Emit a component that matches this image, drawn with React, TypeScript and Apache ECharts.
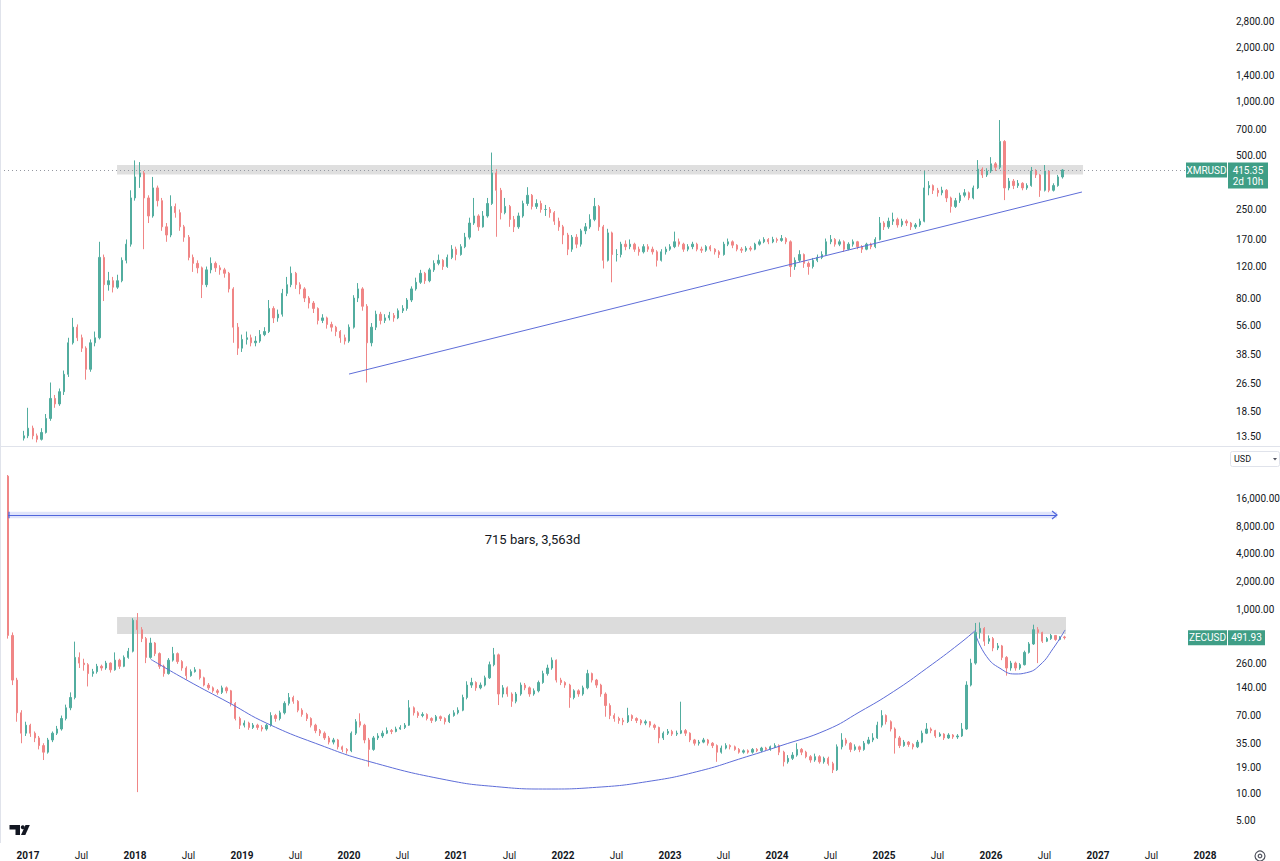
import React, { useEffect, useRef } from "react";
import * as echarts from "echarts";

// ---------- axes ----------
const X_MIN = 2016.738;
const X_MAX = 2028.215;
const BAR_STEP = 1 / 24; // half-month bars
const xTickValues = [2017, 2017.5, 2018, 2018.5, 2019, 2019.5, 2020, 2020.5, 2021, 2021.5, 2022, 2022.5, 2023, 2023.5, 2024, 2024.5, 2025, 2025.5, 2026, 2026.5, 2027, 2027.5, 2028];
const xmrTicks = [13.5, 18.5, 26.5, 38.5, 56, 80, 120, 170, 250, 500, 700, 1000, 1400, 2000, 2800];
const zecTicks = [5, 10, 19, 35, 70, 140, 260, 1000, 2000, 4000, 8000, 16000];
const XMR_RANGE = [11.93, 3700];
const ZEC_RANGE = [2.883, 58050];

// ---------- XMRUSD ----------
const xmrStart = 2016.96;
const xmrOpen0 = 13.2;
const xmrClose = [
  13.6, 15, 13.6, 13, 14.2, 17, 22, 20.5, 24, 30, 45, 55, 48, 42, 32, 45, 48, 135, 95, 100, 92, 100, 130, 160,
  290, 380, 400, 290, 230, 330, 280, 200, 180, 260, 240, 200, 175, 135, 125, 118, 95, 115, 125, 118, 115, 110, 90, 55,
  42, 47, 48, 45, 46, 50, 52, 70, 62, 65, 85, 95, 110, 95, 90, 80, 75, 70, 60, 62, 57, 55, 52, 48,
  46, 55, 80, 90, 72, 45, 55, 65, 60, 62, 64, 62, 68, 70, 78, 90, 98, 110, 100, 115, 125, 130, 120, 135,
  150, 140, 155, 175, 210, 230, 200, 230, 270, 400, 320, 240, 260, 220, 200, 230, 270, 300, 260, 270, 250, 250, 240, 215,
  200, 180, 150, 175, 160, 190, 200, 220, 260, 200, 130, 185, 140, 140, 160, 155, 160, 150, 145, 155, 150, 145, 130, 145,
  150, 155, 165, 160, 150, 155, 160, 150, 148, 155, 150, 145, 140, 160, 165, 158, 150, 148, 152, 150, 160, 165, 170, 165,
  170, 168, 172, 165, 120, 130, 140, 125, 120, 130, 135, 140, 165, 170, 160, 165, 150, 160, 165, 155, 150, 160, 155, 170,
  210, 200, 215, 220, 205, 215, 210, 200, 205, 215, 330, 340, 320, 310, 320, 290, 260, 280, 300, 310, 290, 330, 420, 390,
  410, 450, 430, 600, 330, 360, 340, 350, 330, 340, 410, 390, 320, 410, 320, 340, 380, 415.35,
];
const xmrHigh = [
  14.5, 19.5, 15.5, 14, 15, 18, 27, 23, 25, 31.5, 48, 62, 57, 50, 43, 47, 52, 165, 140, 112, 105, 108, 135, 170,
  320, 470, 460, 410, 300, 380, 340, 290, 210, 300, 270, 250, 205, 180, 140, 130, 120, 120, 135, 128, 122, 118, 112, 92,
  58, 50, 52, 50, 49, 53, 55, 78, 72, 69, 90, 105, 120, 112, 98, 92, 82, 77, 71, 65, 63, 59, 56, 53,
  50, 57, 83, 97, 92, 74, 58, 68, 67, 65, 67, 66, 70, 73, 80, 93, 104, 115, 112, 118, 130, 140, 132, 140,
  158, 155, 160, 185, 225, 290, 235, 245, 290, 520, 420, 330, 290, 265, 230, 240, 280, 333, 305, 285, 280, 265, 258, 245,
  225, 205, 185, 180, 182, 195, 210, 235, 290, 265, 205, 195, 188, 150, 165, 168, 170, 163, 155, 160, 160, 155, 148, 150,
  155, 160, 188, 172, 163, 160, 165, 163, 155, 158, 158, 152, 148, 165, 172, 168, 160, 154, 156, 156, 163, 170, 175, 173,
  176, 174, 180, 175, 168, 135, 148, 142, 128, 134, 140, 146, 172, 180, 173, 170, 168, 164, 170, 167, 158, 163, 163, 175,
  227, 215, 225, 240, 225, 222, 220, 213, 210, 222, 415, 360, 345, 330, 335, 325, 295, 290, 310, 325, 315, 340, 472, 430,
  425, 490, 460, 790, 610, 375, 370, 365, 355, 350, 432, 420, 395, 443, 415, 350, 390, 420,
];
const xmrLow = [
  12.8, 13.2, 13, 12.5, 12.8, 14, 16.5, 19.5, 20, 23, 29, 44, 46, 40, 28, 31, 43, 47, 77, 88, 86, 90, 98, 125,
  155, 280, 330, 150, 210, 225, 260, 190, 165, 175, 225, 190, 165, 130, 112, 110, 80, 92, 110, 112, 108, 104, 86, 45,
  38.5, 40, 44, 43, 43, 45, 49, 51, 58, 59, 63, 82, 92, 90, 84, 76, 70, 66, 57, 58, 54, 52, 49, 45,
  44, 45, 54, 76, 68, 27, 43, 53, 57, 58, 60, 59, 61, 66, 68, 76, 88, 96, 96, 98, 112, 122, 115, 118,
  132, 130, 138, 152, 170, 205, 190, 198, 225, 265, 176, 220, 235, 200, 187, 195, 225, 262, 250, 252, 240, 230, 225, 205,
  190, 160, 139, 145, 152, 155, 182, 195, 215, 190, 117, 128, 98, 128, 135, 148, 150, 145, 138, 142, 145, 140, 120, 128,
  140, 147, 152, 155, 145, 146, 150, 146, 143, 145, 146, 140, 134, 138, 156, 152, 146, 143, 145, 146, 148, 157, 162, 160,
  162, 163, 165, 160, 105, 115, 127, 118, 108, 117, 127, 132, 138, 160, 155, 156, 145, 148, 155, 150, 143, 148, 150, 152,
  168, 192, 195, 205, 198, 200, 202, 192, 195, 200, 212, 300, 305, 295, 300, 275, 240, 255, 272, 292, 282, 285, 325, 375,
  380, 400, 410, 420, 282, 320, 325, 330, 320, 322, 335, 375, 294, 315, 312, 315, 335, 372,
];
const xmrLast = 415.35;
const xmrBand = { t0: 2017.832, t1: 2026.86, lo: 392, hi: 443 };
const xmrTrend = [[2020.0, 30.1], [2026.85, 313]];

// ---------- ZECUSD ----------
const zecStart = 2016.8125;
const zecOpen0 = 28000;
const zecClose = [
  520, 170, 75, 45, 55, 45, 40, 33, 28, 38, 45, 50, 65, 85, 110, 300, 260, 250, 200, 210, 240, 230, 260, 220,
  280, 240, 300, 350, 760, 600, 480, 300, 430, 330, 240, 200, 280, 330, 270, 230, 190, 210, 220, 180, 150, 140, 130, 125,
  140, 130, 95, 65, 55, 58, 52, 55, 52, 50, 55, 70, 65, 75, 95, 110, 100, 80, 72, 65, 55, 48, 45, 40,
  36, 38, 32, 30, 29, 45, 60, 55, 38, 30, 40, 42, 45, 48, 47, 50, 52, 55, 85, 75, 70, 72, 65, 62,
  68, 65, 60, 70, 75, 80, 110, 150, 160, 140, 150, 180, 250, 320, 120, 140, 120, 100, 120, 150, 140, 120, 130, 160,
  200, 230, 280, 170, 160, 150, 110, 130, 120, 140, 200, 170, 150, 120, 90, 70, 65, 62, 60, 70, 65, 62, 58, 60,
  55, 52, 40, 45, 47, 44, 45, 48, 45, 38, 35, 36, 38, 35, 33, 28, 31, 33, 32, 30, 28, 29, 28, 30,
  29, 31, 30, 32, 33, 28, 22, 24, 26, 30, 28, 25, 23, 25, 22, 24, 21, 18, 32, 38, 35, 30, 32, 30,
  35, 38, 40, 55, 70, 60, 50, 40, 33, 36, 34, 32, 36, 45, 50, 48, 42, 44, 40, 43, 41, 42, 50, 150,
  260, 560, 620, 450, 480, 380, 400, 300, 230, 260, 230, 250, 340, 420, 600, 560, 450, 480, 520, 470, 500, 491.93,
];
const zecHigh = [
  28800, 560, 180, 80, 60, 57, 47, 42, 35, 40, 47, 54, 70, 92, 125, 445, 340, 290, 260, 225, 255, 250, 275, 265,
  340, 290, 315, 380, 800, 910, 640, 500, 490, 440, 340, 250, 295, 390, 340, 280, 240, 222, 235, 225, 185, 158, 145, 136,
  148, 145, 133, 98, 68, 62, 60, 58, 57, 55, 57, 76, 73, 79, 100, 123, 115, 103, 84, 75, 67, 57, 50, 47,
  42, 40, 39, 33, 31, 47, 64, 74, 57, 40, 42, 45, 48, 52, 50, 53, 55, 58, 103, 88, 78, 76, 74, 67,
  71, 70, 67, 73, 80, 86, 118, 165, 180, 165, 160, 190, 270, 380, 330, 150, 145, 125, 126, 160, 158, 145, 138, 168,
  215, 250, 300, 285, 180, 165, 155, 135, 135, 148, 220, 205, 175, 155, 125, 95, 74, 68, 66, 85, 72, 67, 64, 63,
  61, 57, 53, 47, 50, 49, 48, 99, 50, 46, 39, 38, 40, 39, 36, 34, 33, 35, 34, 33, 31, 30, 30, 31,
  31, 32, 32, 33, 35, 34, 29, 26, 28, 35, 31, 29, 26, 27, 26, 25, 25, 22, 34, 45, 40, 36, 34, 33,
  37, 41, 45, 60, 80, 72, 62, 52, 42, 38, 37, 35, 38, 48, 58, 52, 49, 46, 45, 45, 44, 44, 58, 165,
  290, 710, 720, 640, 520, 500, 430, 410, 310, 275, 270, 260, 355, 440, 680, 640, 570, 500, 540, 525, 510, 515,
];
const zecLow = [
  480, 150, 60, 35, 42, 41, 36, 30, 23, 27, 36, 43, 48, 62, 80, 105, 230, 215, 145, 185, 200, 215, 220, 205,
  215, 225, 235, 290, 340, 10.3, 440, 260, 290, 310, 225, 185, 195, 270, 255, 215, 172, 185, 205, 172, 145, 133, 124, 118,
  120, 122, 88, 62, 50, 52, 49, 50, 49, 47, 48, 53, 60, 62, 72, 90, 94, 76, 68, 61, 52, 45, 42, 38,
  34, 34, 30, 28, 27, 28, 43, 52, 35, 19.5, 29, 38, 40, 44, 44, 46, 49, 50, 54, 70, 66, 67, 62, 58,
  60, 61, 56, 58, 68, 72, 78, 105, 140, 130, 135, 145, 175, 240, 91, 110, 112, 87, 95, 115, 132, 112, 115, 125,
  155, 190, 220, 160, 150, 140, 85, 105, 112, 115, 135, 160, 140, 112, 68, 64, 60, 57, 55, 58, 61, 58, 55, 55,
  52, 49, 35, 38, 43, 42, 42, 44, 42, 36, 33, 33, 35, 33, 31, 22, 27, 30, 30, 29, 27, 27, 27, 27,
  28, 28, 29, 29, 31, 26, 19.6, 21, 23, 25, 26, 24, 21.5, 22, 21, 21, 20, 16.6, 17.5, 30, 33, 28, 29, 28,
  29, 34, 36, 39, 52, 56, 47, 27, 31, 32, 32, 30, 31, 35, 44, 45, 40, 41, 38, 39, 39, 39, 41, 49,
  145, 250, 480, 400, 420, 350, 360, 280, 190, 215, 215, 220, 245, 330, 410, 260, 430, 440, 465, 455, 460, 470,
];
const zecLast = 491.93;
const zecBand = { t0: 2017.832, t1: 2026.701, lo: 539, hi: 824 };
const zecCupMain = [
  [2018.147, 286], [2018.483, 170], [2018.888, 95], [2019.231, 57.7], [2019.729, 33.5], [2020.196, 22.05],
  [2020.913, 13.95], [2021.38, 11.8], [2021.848, 11.13], [2022.315, 11.62], [2022.782, 13.37], [2023.25, 17.17],
  [2023.717, 25.0], [2024.028, 32.7], [2024.464, 48.8], [2024.776, 77.1], [2025.087, 127.2], [2025.399, 228.4],
  [2025.71, 427], [2025.86, 596],
];
const zecCupRight = [
  [2025.86, 513], [2025.96, 305.5], [2026.084, 228.4], [2026.224, 198.1], [2026.333, 204.6], [2026.458, 248.1],
  [2026.582, 376.7], [2026.692, 596],
];
const measure = { t0: 2016.813, t1: 2026.617, price: 10590, lo: 9750, hi: 11510, label: "715 bars, 3,563d" };

// ---------- styles ----------
const FONT = "Roboto, 'Noto Sans', 'DejaVu Sans', sans-serif";
const UP = "#52ad9f";
const DOWN = "#f08686";
const TAG = "#3f9e86";
const LINE_BLUE = "#5e6dd8";
const TEXT = "#131722";

function buildCandles(start: number, open0: number, close: number[], high: number[], low: number[]) {
  return close.map((c, i) => {
    const o = i === 0 ? open0 : close[i - 1];
    return [start + i * BAR_STEP, o, c, low[i], high[i]];
  });
}

const priceFmt = (v: number) =>
  Number(v).toLocaleString("en-US", { minimumFractionDigits: 2, maximumFractionDigits: 2 });

function yAxisCfg(grid: number, range: number[], ticks: number[]) {
  return {
    type: "log",
    logBase: 10,
    gridIndex: grid,
    position: "right",
    min: range[0],
    max: range[1],
    axisLine: { show: false },
    axisTick: { show: false },
    splitLine: { show: false },
    axisLabel: {
      customValues: ticks,
      formatter: priceFmt,
      margin: 8,
      fontSize: 10,
      color: TEXT,
      fontFamily: FONT,
    },
  };
}

function buildOption() {
  const candleStyle = { color: UP, color0: DOWN, borderColor: UP, borderColor0: DOWN, borderWidth: 1 };
  return {
    animation: false,
    backgroundColor: "#ffffff",
    grid: [
      { left: 0, top: 0, width: 1228, height: 446, containLabel: false, outerBoundsMode: "none" },
      { left: 0, top: 447, width: 1228, height: 396, containLabel: false, outerBoundsMode: "none" },
    ],
    xAxis: [
      {
        type: "value", gridIndex: 0, min: X_MIN, max: X_MAX,
        axisLine: { show: false }, axisTick: { show: false }, splitLine: { show: false }, axisLabel: { show: false },
      },
      {
        type: "value", gridIndex: 1, min: X_MIN, max: X_MAX,
        axisLine: { show: false }, axisTick: { show: false }, splitLine: { show: false },
        axisLabel: {
          customValues: xTickValues,
          margin: 7,
          formatter: (v: number) => {
            const r = Math.round(v);
            return Math.abs(v - r) < 1e-6 ? `{yr|${r}}` : "{mo|Jul}";
          },
          rich: {
            yr: { fontSize: 10, fontWeight: "bold", color: TEXT, fontFamily: FONT },
            mo: { fontSize: 10, color: TEXT, fontFamily: FONT },
          },
        },
      },
    ],
    yAxis: [yAxisCfg(0, XMR_RANGE, xmrTicks), yAxisCfg(1, ZEC_RANGE, zecTicks)],
    series: [
      {
        name: "XMRUSD",
        type: "candlestick",
        xAxisIndex: 0,
        yAxisIndex: 0,
        barWidth: 1.8,
        silent: true,
        itemStyle: candleStyle,
        data: buildCandles(xmrStart, xmrOpen0, xmrClose, xmrHigh, xmrLow),
        markArea: {
          silent: true,
          label: { show: false },
          data: [[
            { xAxis: xmrBand.t0, yAxis: xmrBand.hi, itemStyle: { color: "#d4d4d4", opacity: 0.75 } },
            { xAxis: xmrBand.t1, yAxis: xmrBand.lo },
          ]],
        },
        markLine: {
          silent: true,
          symbol: ["none", "none"],
          label: { show: false },
          lineStyle: { color: "#9598a1", type: [1, 3], width: 1 },
          data: [{ yAxis: xmrLast }],
        },
      },
      {
        name: "xmrTrend",
        type: "line",
        xAxisIndex: 0,
        yAxisIndex: 0,
        silent: true,
        symbol: "none",
        z: 6,
        lineStyle: { color: LINE_BLUE, width: 1 },
        data: xmrTrend,
      },
      {
        name: "ZECUSD",
        type: "candlestick",
        xAxisIndex: 1,
        yAxisIndex: 1,
        barWidth: 1.8,
        silent: true,
        itemStyle: candleStyle,
        data: buildCandles(zecStart, zecOpen0, zecClose, zecHigh, zecLow),
        markArea: {
          silent: true,
          label: { show: false },
          data: [
            [
              { xAxis: zecBand.t0, yAxis: zecBand.hi, itemStyle: { color: "#dadada", opacity: 0.95 } },
              { xAxis: zecBand.t1, yAxis: zecBand.lo },
            ],
            [
              { xAxis: measure.t0, yAxis: measure.hi, itemStyle: { color: "rgba(98,120,235,0.2)" } },
              { xAxis: measure.t1, yAxis: measure.lo },
            ],
          ],
        },
        markLine: {
          silent: true,
          symbol: ["none", "none"],
          label: { show: false },
          lineStyle: { color: "#5066dc", type: "solid", width: 1.2 },
          data: [[{ coord: [measure.t0, measure.price] }, { coord: [measure.t1, measure.price] }]],
        },
      },
      {
        name: "zecCupMain",
        type: "line",
        xAxisIndex: 1,
        yAxisIndex: 1,
        silent: true,
        symbol: "none",
        smooth: 0.5,
        z: 6,
        lineStyle: { color: LINE_BLUE, width: 1 },
        data: zecCupMain,
      },
      {
        name: "zecCupRight",
        type: "line",
        xAxisIndex: 1,
        yAxisIndex: 1,
        silent: true,
        symbol: "none",
        smooth: 0.5,
        z: 6,
        lineStyle: { color: LINE_BLUE, width: 1 },
        data: zecCupRight,
      },
    ],
  };
}

function txt(text: string, x: number, y: number, extra: any = {}) {
  return {
    type: "text",
    z: 100,
    silent: true,
    style: {
      text,
      x,
      y,
      fill: "#ffffff",
      fontSize: 10,
      fontFamily: FONT,
      align: "center",
      verticalAlign: "middle",
      textAlign: "center",
      textVerticalAlign: "middle",
      ...extra,
    },
  };
}

function rect(x: number, y: number, w: number, h: number, style: any, r = 0) {
  return { type: "rect", z: 99, silent: true, shape: { x, y, width: w, height: h, r }, style };
}

function buildGraphics(chart: any) {
  const y0 = (v: number) => chart.convertToPixel({ yAxisIndex: 0 }, v) as number;
  const y1 = (v: number) => chart.convertToPixel({ yAxisIndex: 1 }, v) as number;
  const x1 = (v: number) => chart.convertToPixel({ xAxisIndex: 1 }, v) as number;

  const xmrY = y0(xmrLast);
  const zecY = y1(zecLast);
  const mx0 = x1(measure.t0);
  const mx1 = x1(measure.t1);
  const my = y1(measure.price);
  const myHi = y1(measure.hi);
  const myLo = y1(measure.lo);

  return [
    // pane separator & left border
    { type: "line", z: 90, silent: true, shape: { x1: 0, y1: 446.5, x2: 1280, y2: 446.5 }, style: { stroke: "#e0e3eb", lineWidth: 1 } },
    { type: "line", z: 90, silent: true, shape: { x1: 0.5, y1: 0, x2: 0.5, y2: 843 }, style: { stroke: "#e0e3eb", lineWidth: 1 } },

    // XMR price tag
    rect(1186, xmrY - 7.5, 41, 15, { fill: TAG }),
    txt("XMRUSD", 1206.5, xmrY),
    rect(1228, xmrY - 7.5, 40, 26, { fill: TAG }),
    txt(priceFmt(xmrLast), 1248, xmrY),
    txt("2d 10h", 1248, xmrY + 11.5),

    // ZEC price tag
    rect(1188, zecY - 7.5, 39, 15, { fill: TAG }),
    txt("ZECUSD", 1207.5, zecY),
    rect(1228, zecY - 7.5, 37, 15, { fill: TAG }),
    txt(priceFmt(zecLast), 1246.5, zecY),

    // USD currency box
    rect(1230.5, 451.5, 49, 15, { fill: "#ffffff", stroke: "#e0e3eb", lineWidth: 1 }, 2),
    txt("USD", 1234, 459, { fill: TEXT, fontSize: 9, align: "left", textAlign: "left" }),
    { type: "polygon", z: 100, silent: true, shape: { points: [[1273, 458], [1277, 458], [1275, 460.5]] }, style: { fill: "#50535e" } },

    // measurement tool ends & label
    { type: "line", z: 100, silent: true, shape: { x1: mx0 + 1, y1: myHi, x2: mx0 + 1, y2: myLo }, style: { stroke: "#5066dc", lineWidth: 1.2 } },
    { type: "polyline", z: 100, silent: true, shape: { points: [[mx1 - 5, my - 4], [mx1, my], [mx1 - 5, my + 4]] }, style: { stroke: "#5066dc", lineWidth: 1.2, fill: "none" } },
    txt(measure.label, (mx0 + mx1) / 2, my + 25, { fill: TEXT, fontSize: 13 }),

    // TradingView logo
    { type: "polygon", z: 100, silent: true, shape: { points: [[9.5, 825], [20, 825], [20, 835], [15.5, 835], [15.5, 829.5], [9.5, 829.5]] }, style: { fill: TEXT } },
    { type: "circle", z: 100, silent: true, shape: { cx: 22.8, cy: 827.3, r: 2 }, style: { fill: TEXT } },
    { type: "polygon", z: 100, silent: true, shape: { points: [[25.5, 825], [29.8, 825], [25.3, 835], [21, 835]] }, style: { fill: TEXT } },

    // settings icon
    { type: "circle", z: 100, silent: true, shape: { cx: 1260, cy: 856, r: 5 }, style: { fill: "none", stroke: "#50535e", lineWidth: 1.2 } },
    { type: "circle", z: 100, silent: true, shape: { cx: 1260, cy: 856, r: 1.8 }, style: { fill: "none", stroke: "#50535e", lineWidth: 1.2 } },
  ];
}

export default function App() {
  const ref = useRef<HTMLDivElement>(null);
  useEffect(() => {
    if (!ref.current) return;
    const chart = echarts.init(ref.current, null, { renderer: "svg", width: 1280, height: 861 });
    chart.setOption(buildOption() as any);
    chart.setOption({ graphic: buildGraphics(chart) } as any);
    return () => chart.dispose();
  }, []);
  return (
    <div
      ref={ref}
      style={{ position: "absolute", left: 0, top: 0, width: 1280, height: 861, background: "#ffffff" }}
    />
  );
}
